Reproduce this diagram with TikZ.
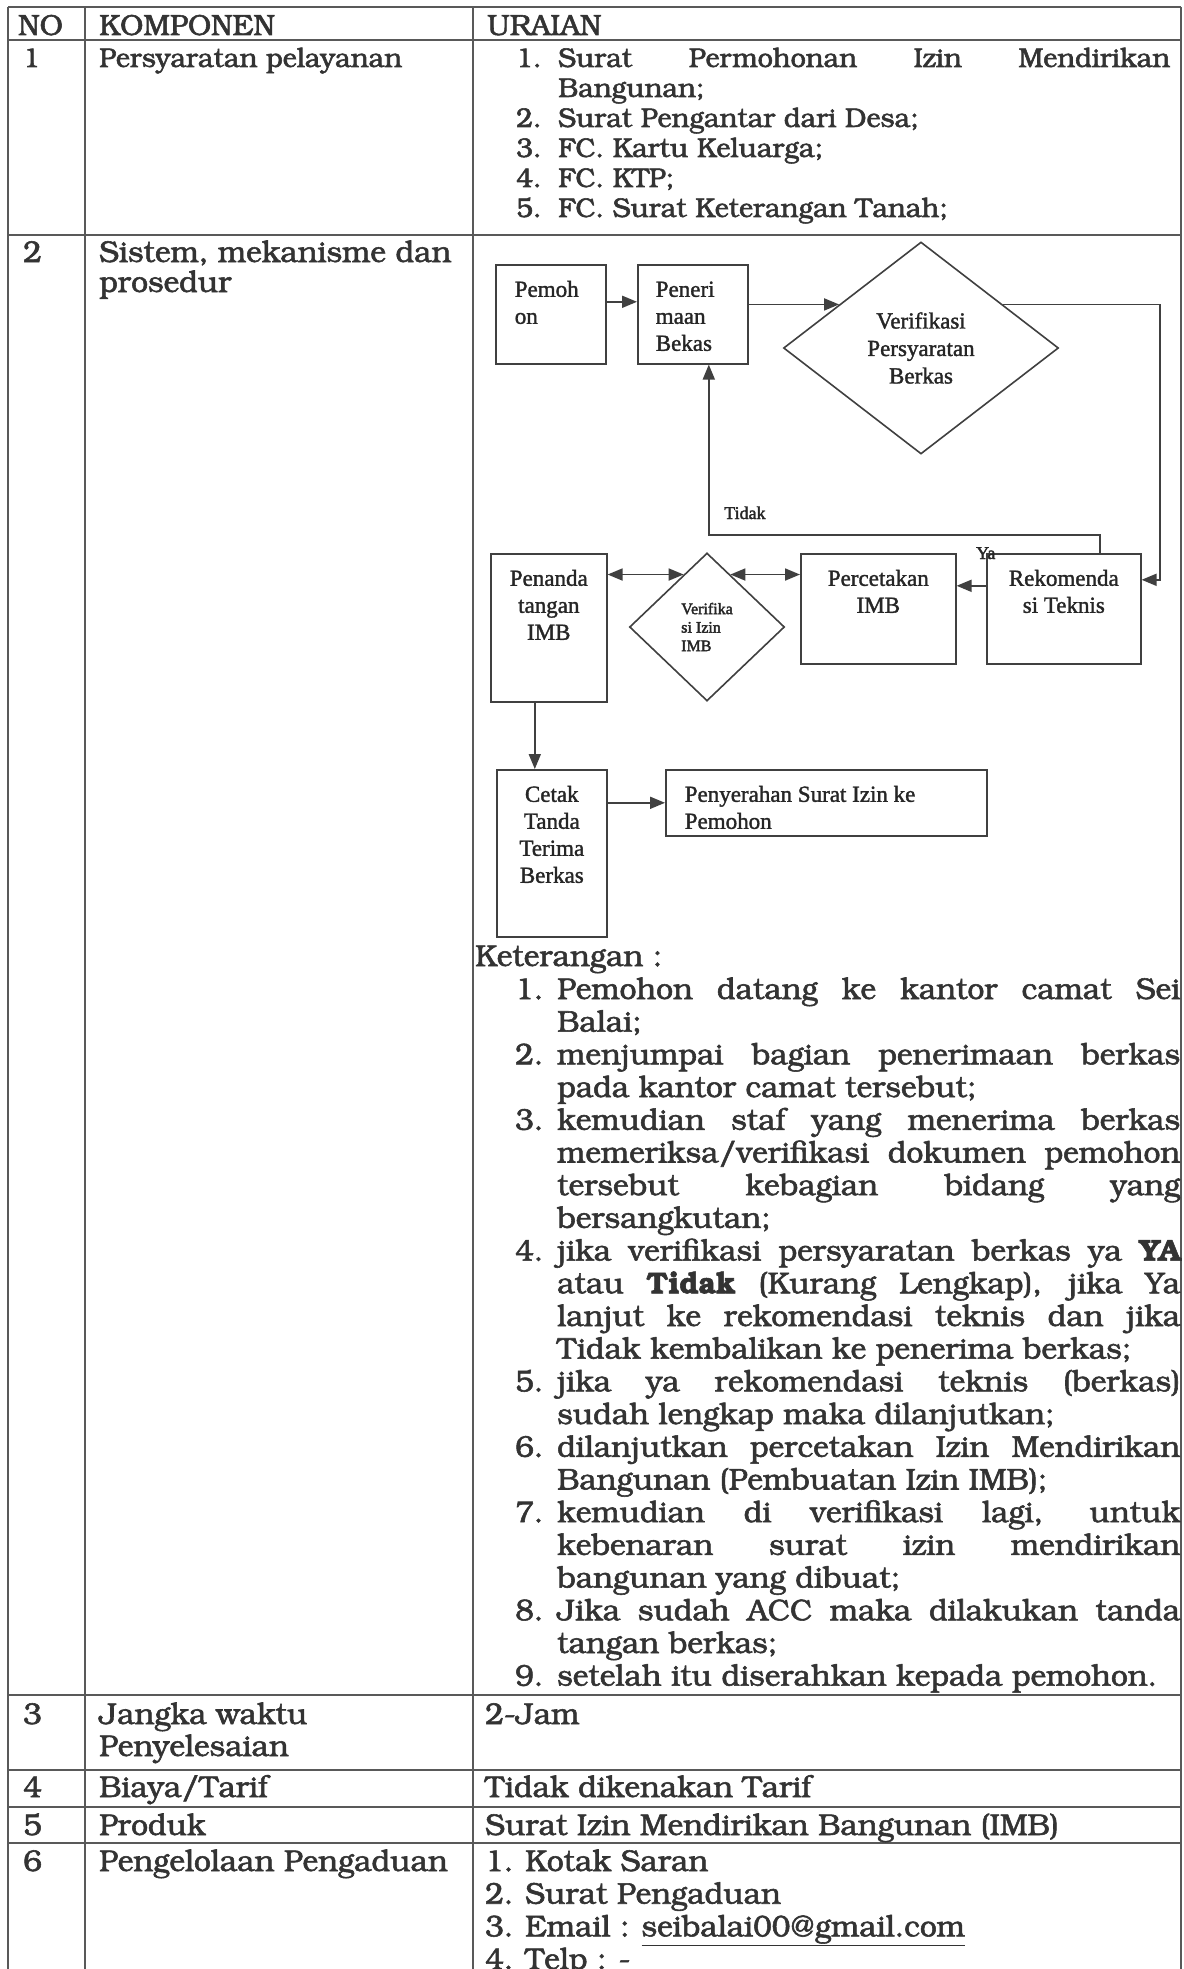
\documentclass[tikz,border=0pt]{standalone}
\usepackage[T1,TU]{fontenc}
\usepackage{fontspec}
\setmainfont{Liberation Serif}
\usetikzlibrary{arrows.meta,shapes.geometric}
\newcommand{\fontbk}{\fontencoding{T1}\fontfamily{pbk}\selectfont\special{pdf:literal direct 2 Tr 0.55 w}}
\newcommand{\fonttm}{\special{pdf:literal direct 2 Tr 0.35 w}}
\newcommand{\aturpar}{\tolerance=10000\hbadness=10000\hyphenpenalty=10000\exhyphenpenalty=10000}
\newcommand{\butir}[2]{\par\noindent\hangindent=42pt\hangafter=1\makebox[42pt][l]{#1}#2}
\newcommand{\isikotak}[4]{\parbox[c][#2][t]{#1}{#3\rule{0pt}{32pt}#4}}
\begin{document}
\begin{tikzpicture}[x=1pt,y=-1pt,
    garis/.style={draw=black!65,line width=1.4pt},
    tabel/.style={font=\fontbk\fontsize{30}{32.7}\selectfont,text=black!80,inner sep=0pt,anchor=base west},
    tabelkecil/.style={tabel,font=\fontbk\fontsize{27}{30}\selectfont},
    kotak/.style={draw=black!75,line width=1.6pt,inner sep=0pt,anchor=north west,text=black!85,font=\fonttm\fontsize{23}{27}\selectfont},
    belah/.style={draw=black!75,line width=1.6pt,shape=diamond,inner sep=0pt,text=black!85},
    label/.style={font=\fonttm\fontsize{18}{20}\selectfont,text=black!85,inner sep=0pt,anchor=base west},
    panah/.style={draw=black!75,line width=1.8pt,-{Stealth[length=15pt,width=12pt,inset=0pt]}},
    panahdua/.style={draw=black!75,line width=1.8pt,{Stealth[length=15pt,width=12pt,inset=0pt]}-{Stealth[length=15pt,width=12pt,inset=0pt]}}]
  \useasboundingbox (0,0) rectangle (1183,1969);
  \fill[white] (0,0) rectangle (1183,1969);
  \foreach \y in {7,40,235,1695,1770,1807,1843}
    \draw[garis] (8,\y) -- (1181,\y);
  \foreach \x in {8,85,473,1181}
    \draw[garis] (\x,7) -- (\x,1980);

  \node[tabel,font=\fontbk\fontsize{29}{30}\selectfont] (hno) at (18,35) {NO};
  \node[tabel,font=\fontbk\fontsize{29}{30}\selectfont] (hkomp) at (99,35) {KOMPONEN};
  \node[tabel,font=\fontbk\fontsize{29}{30}\selectfont] (hurai) at (487,35) {URAIAN};

  \node[tabelkecil] (no1) at (23,67) {1};
  \node[tabelkecil] (komp1) at (99,67) {Persyaratan pelayanan};
  \node[tabelkecil] (urai1) at (516,67) {\parbox[t]{654pt}{\aturpar
    \butir{1.}{Surat Permohonan Izin Mendirikan\linebreak Bangunan;}
    \butir{2.}{Surat Pengantar dari Desa;}
    \butir{3.}{FC. Kartu Keluarga;}
    \butir{4.}{FC. KTP;}
    \butir{5.}{FC. Surat Keterangan Tanah;}}};

  \node[tabel] (no2) at (23,262) {2};
  \node[tabel,font=\fontbk\fontsize{30}{30}\selectfont] (komp2) at (99,262) {\parbox[t]{370pt}{Sistem, mekanisme dan\\prosedur}};

  \node[kotak] (pemohon) at (495,264) {\isikotak{110pt}{99pt}{\raggedright\leftskip=19pt}{Pemoh\\on}};
  \node[kotak] (peneri) at (637,264) {\isikotak{110pt}{99pt}{\raggedright\leftskip=18pt}{Peneri\\maan\\Bekas}};
  \node[belah,minimum width=275pt,minimum height=212pt,align=center,font=\fonttm\fontsize{23}{27.5}\selectfont] (verif) at (921,348) {Verifikasi\\Persyaratan\\Berkas};
  \node[kotak] (penanda) at (490,553) {\isikotak{116pt}{148pt}{\centering}{Penanda\\tangan\\IMB}};
  \node[belah,minimum width=155pt,minimum height=148pt,align=left,font=\fonttm\fontsize{16}{18.5}\selectfont] (verifizin) at (707,627) {Verifika\\si Izin\\IMB};
  \node[kotak] (percetakan) at (800,553) {\isikotak{155pt}{110pt}{\centering}{Percetakan\\IMB}};
  \node[kotak] (rekom) at (986,553) {\isikotak{154pt}{110pt}{\centering}{Rekomenda\\si Teknis}};
  \node[kotak] (cetak) at (496,769) {\isikotak{110pt}{167pt}{\centering}{Cetak\\Tanda\\Terima\\Berkas}};
  \node[kotak] (serah) at (665,769) {\isikotak{321pt}{66pt}{\raggedright\leftskip=19pt}{Penyerahan Surat Izin ke\\Pemohon}};
  \node[label] (lbltidak) at (724,519) {Tidak};
  \node[label] (lblya) at (976,559) {Ya};
  \coordinate (kanan) at (1160,0);
  \coordinate (balik) at (0,535);

  \draw[panah] ([yshift=12.5pt]pemohon.east) -- ([yshift=12.5pt]peneri.west);
  \draw[panah] (peneri.east |- verif.152) -- (verif.152);
  \draw[panah] (verif.28) -| ([yshift=29pt]rekom.east -| kanan) -- ([yshift=29pt]rekom.east);
  \draw[panah] ([xshift=36pt]rekom.north) -- ([xshift=36pt]rekom.north |- balik) -| ([xshift=16pt]peneri.south);
  \draw[panah] ([yshift=23pt]rekom.west) -- ([yshift=23pt]percetakan.east);
  \draw[panahdua] (verifizin.66) -- (verifizin.66 -| percetakan.west);
  \draw[panahdua] (penanda.east |- verifizin.114) -- (verifizin.114);
  \draw[panah] ([xshift=-14pt]penanda.south) -- ([xshift=-14pt]penanda.south |- cetak.north);
  \draw[panah] (cetak.east |- serah.west) -- (serah.west);

  \node[tabel] (ketjudul) at (475,966) {Keterangan :};
  \node[tabel] (ketisi) at (515,999) {\parbox[t]{665pt}{\aturpar
    \butir{1.}{Pemohon datang ke kantor camat Sei\linebreak Balai;}
    \butir{2.}{menjumpai bagian penerimaan berkas\linebreak pada kantor camat tersebut;}
    \butir{3.}{kemudian staf yang menerima berkas\linebreak memeriksa/verifikasi dokumen pemohon\linebreak tersebut kebagian bidang yang\linebreak bersangkutan;}
    \butir{4.}{jika verifikasi persyaratan berkas ya \textbf{YA}\linebreak atau \textbf{Tidak} (Kurang Lengkap), jika Ya\linebreak lanjut ke rekomendasi teknis dan jika\linebreak Tidak kembalikan ke penerima berkas;}
    \butir{5.}{jika ya rekomendasi teknis (berkas)\linebreak sudah lengkap maka dilanjutkan;}
    \butir{6.}{dilanjutkan percetakan Izin Mendirikan\linebreak Bangunan (Pembuatan Izin IMB);}
    \butir{7.}{kemudian di verifikasi lagi, untuk\linebreak kebenaran surat izin mendirikan\linebreak bangunan yang dibuat;}
    \butir{8.}{Jika sudah ACC maka dilakukan tanda\linebreak tangan berkas;}
    \butir{9.}{setelah itu diserahkan kepada pemohon.}}};

  \node[tabel] (no3) at (23,1724) {3};
  \node[tabel,font=\fontbk\fontsize{30}{32}\selectfont] (komp3) at (99,1724) {\parbox[t]{370pt}{Jangka waktu\\Penyelesaian}};
  \node[tabel] (urai3) at (485,1724) {2-Jam};
  \node[tabel] (no4) at (23,1797) {4};
  \node[tabel] (komp4) at (99,1797) {Biaya/Tarif};
  \node[tabel] (urai4) at (485,1797) {Tidak dikenakan Tarif};
  \node[tabel] (no5) at (23,1835) {5};
  \node[tabel] (komp5) at (99,1835) {Produk};
  \node[tabel] (urai5) at (485,1835) {Surat Izin Mendirikan Bangunan (IMB)};
  \node[tabel] (no6) at (23,1871) {6};
  \node[tabel] (komp6) at (99,1871) {Pengelolaan Pengaduan};
  \node[tabel] (urai6) at (485,1871) {\parbox[t]{680pt}{1. Kotak Saran\\2. Surat Pengaduan\\3. Email : \underline{seibalai00@gmail.com}\\4. Telp : -}};
\end{tikzpicture}
\end{document}
